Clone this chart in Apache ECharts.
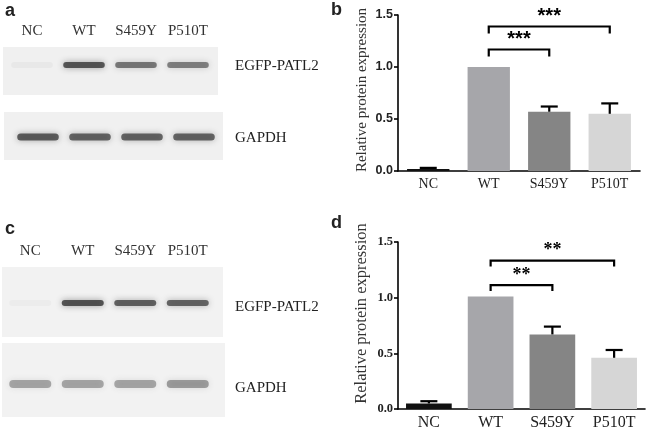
<!DOCTYPE html>
<html>
<head>
<meta charset="utf-8">
<script src="https://cdn.jsdelivr.net/npm/echarts@6/dist/echarts.min.js"></script>
<style>
html, body { margin: 0; background: #fff; }
#main { width: 649px; height: 433px; }
</style>
</head>
<body>
<div id="main"></div>
<script>
var lanes = ['NC', 'WT', 'S459Y', 'P510T'];

// band intensities (0 = none, 1 = black)
var blotA_egfp = [0.04, 0.78, 0.6, 0.56];
var blotA_gapdh = [0.74, 0.7, 0.7, 0.7];
var blotC_egfp = [0.03, 0.8, 0.72, 0.7];
var blotC_gapdh = [0.42, 0.42, 0.42, 0.47];

// quantification (mean, upper error)
var meanB = [0.02, 1.0, 0.57, 0.55];
var errB = [0.01, 0, 0.05, 0.10];
var meanD = [0.05, 1.01, 0.67, 0.46];
var errD = [0.02, 0, 0.07, 0.07];

// significance brackets: [from lane, to lane, label]
var sigB = [[1, 2, '***'], [1, 3, '***']];
var sigD = [[1, 2, '**'], [1, 3, '**']];

var barColors = ['#111111', '#a6a6aa', '#858585', '#d6d6d6'];

var serif = 'Liberation Serif';
var sans = 'Liberation Sans';

var myChart = echarts.init(document.getElementById('main'));

function bandSeries(gi, vals, h, rgb) {
    return {
        type: 'custom',
        xAxisIndex: gi,
        yAxisIndex: gi,
        silent: true,
        data: vals.map(function (v, i) { return [i, v]; }),
        renderItem: function (params, api) {
            var cs = params.coordSys;
            var cx = api.coord([api.value(0), 0])[0];
            var w = api.size([1, 0])[0] * 0.8;
            var cy = cs.y + cs.height / 2;
            var a = api.value(1);
            var c = 'rgba(' + rgb + ',' + a + ')';
            return {
                type: 'rect',
                shape: { x: cx - w / 2, y: cy - h / 2, width: w, height: h, r: h / 2 },
                style: { fill: c, shadowBlur: 6, shadowColor: 'rgba(' + rgb + ',' + (a * 0.7) + ')' }
            };
        }
    };
}

function barSeries(gi, means) {
    return {
        type: 'bar',
        xAxisIndex: gi,
        yAxisIndex: gi,
        barCategoryGap: gi == 4 ? '30%' : '26%',
        silent: true,
        data: means.map(function (v, i) {
            return { value: v, itemStyle: { color: barColors[i] } };
        })
    };
}

function errSeries(gi, means, errs) {
    return {
        type: 'custom',
        xAxisIndex: gi,
        yAxisIndex: gi,
        silent: true,
        z: 5,
        data: means.map(function (v, i) { return [i, v, errs[i]]; }),
        renderItem: function (params, api) {
            if (!api.value(2)) return null;
            var p0 = api.coord([api.value(0), api.value(1)]);
            var p1 = api.coord([api.value(0), api.value(1) + api.value(2)]);
            var st = { stroke: '#000', lineWidth: 2.2 };
            return {
                type: 'group',
                children: [
                    { type: 'line', shape: { x1: p0[0], y1: p0[1], x2: p1[0], y2: p1[1] }, style: st },
                    { type: 'line', shape: { x1: p1[0] - 8.5, y1: p1[1], x2: p1[0] + 8.5, y2: p1[1] }, style: st }
                ]
            };
        }
    };
}

function sigSeries(gi, sig, means, errs, off0, step, drop, font, lift) {
    var top = 0;
    means.forEach(function (v, i) { top = Math.max(top, v + errs[i]); });
    return {
        type: 'custom',
        xAxisIndex: gi,
        yAxisIndex: gi,
        silent: true,
        z: 6,
        data: sig.map(function (s, k) { return [s[0], s[1], k]; }),
        renderItem: function (params, api) {
            var k = api.value(2);
            var pa = api.coord([api.value(0), top]);
            var pb = api.coord([api.value(1), top]);
            var y = pa[1] - off0 - k * step;
            var st = { stroke: '#000', lineWidth: 2.2 };
            return {
                type: 'group',
                children: [
                    { type: 'polyline', shape: { points: [[pa[0], y + drop], [pa[0], y], [pb[0], y], [pb[0], y + drop]] }, style: Object.assign({ fill: null }, st) },
                    { type: 'text', style: { text: sig[params.dataIndex][2], x: (pa[0] + pb[0]) / 2, y: y - lift, align: 'center', verticalAlign: 'bottom', font: font, fill: '#000' } }
                ]
            };
        }
    };
}

function blotX(gi, showLabels, margin) {
    return {
        type: 'category',
        gridIndex: gi,
        data: lanes,
        position: 'top',
        axisLine: { show: false },
        axisTick: { show: false },
        axisLabel: {
            show: showLabels,
            interval: 0,
            margin: margin,
            fontFamily: serif,
            fontSize: 15,
            color: '#333'
        }
    };
}

function blotY(gi) {
    return { type: 'value', gridIndex: gi, min: 0, max: 1, show: false };
}

function barX(gi, fs) {
    return {
        type: 'category',
        gridIndex: gi,
        data: lanes,
        axisLine: { lineStyle: { color: '#000', width: 1.6 } },
        axisTick: { alignWithLabel: true, length: 4, lineStyle: { color: '#000', width: 1.6 } },
        axisLabel: { margin: 6, fontFamily: serif, fontSize: fs, color: '#222' }
    };
}

function barY(gi, labelFont, nameSize, namePad) {
    return {
        type: 'value',
        gridIndex: gi,
        min: 0,
        max: 1.5,
        interval: 0.5,
        name: 'Relative protein expression',
        nameLocation: 'middle',
        nameGap: 28,
        nameTextStyle: { fontFamily: serif, fontSize: nameSize, color: '#333', padding: namePad },
        splitLine: { show: false },
        axisLine: { show: true, lineStyle: { color: '#000', width: 1.6 } },
        axisTick: { show: true, length: 4, lineStyle: { color: '#000', width: 1.6 } },
        axisLabel: {
            margin: 5,
            fontFamily: labelFont,
            fontWeight: 'bold',
            fontSize: 12.5,
            color: '#222',
            formatter: function (v) { return v.toFixed(1); }
        }
    };
}

function txt(x, y, s, font) {
    return {
        type: 'text', x: x, y: y,
        style: { text: s, font: font, fill: '#222', verticalAlign: 'middle' }
    };
}

option = {
    backgroundColor: '#fff',
    animation: false,
    grid: [
        { left: 6, width: 208, top: 55, height: 20 },
        { left: 12, width: 208, top: 127, height: 20 },
        { left: 4, width: 210, top: 293, height: 20 },
        { left: 4, width: 210, top: 374, height: 20 },
        { left: 398, right: 9, top: 15, bottom: 262 },
        { left: 398, right: 4, top: 242, bottom: 24 }
    ],
    xAxis: [
        blotX(0, true, 16),
        blotX(1, false, 0),
        blotX(2, true, 34),
        blotX(3, false, 0),
        barX(4, 14),
        barX(5, 16)
    ],
    yAxis: [
        blotY(0), blotY(1), blotY(2), blotY(3),
        barY(4, sans, 15, [0, 0, 0, 6]),
        barY(5, serif, 16.5, [0, 0, 0, 24])
    ],
    graphic: [
        { type: 'rect', z: -1, shape: { x: 3, y: 47, width: 215, height: 48 }, style: { fill: '#f0f0f0' } },
        { type: 'rect', z: -1, shape: { x: 4, y: 112, width: 219, height: 48 }, style: { fill: '#f0f0f0' } },
        { type: 'rect', z: -1, shape: { x: 2, y: 267, width: 221, height: 70 }, style: { fill: '#f2f2f2' } },
        { type: 'rect', z: -1, shape: { x: 2, y: 343, width: 223, height: 74 }, style: { fill: '#f2f2f2' } },
        txt(5, 11, 'a', 'bold 18px ' + sans),
        txt(331, 10, 'b', 'bold 18px ' + sans),
        txt(5, 229, 'c', 'bold 18px ' + sans),
        txt(331, 223, 'd', 'bold 18px ' + sans),
        txt(235, 66, 'EGFP-PATL2', '15px ' + serif),
        txt(235, 138, 'GAPDH', '15px ' + serif),
        txt(235, 307, 'EGFP-PATL2', '15px ' + serif),
        txt(235, 388, 'GAPDH', '15px ' + serif)
    ],
    series: [
        bandSeries(0, blotA_egfp, 6, '50,50,50'),
        bandSeries(1, blotA_gapdh, 7, '50,50,50'),
        bandSeries(2, blotC_egfp, 6, '50,50,50'),
        bandSeries(3, blotC_gapdh, 8, '70,70,70'),
        barSeries(4, meanB),
        errSeries(4, meanB, errB),
        sigSeries(4, sigB, meanB, errB, 17.5, 23, 7, 'bold 20px ' + sans, 0),
        barSeries(5, meanD),
        errSeries(5, meanD, errD),
        sigSeries(5, sigD, meanD, errD, 11.5, 24.5, 6, 'bold 18px ' + serif, 1)
    ]
};

myChart.setOption(option);
window.onresize = myChart.resize;
</script>
</body>
</html>
